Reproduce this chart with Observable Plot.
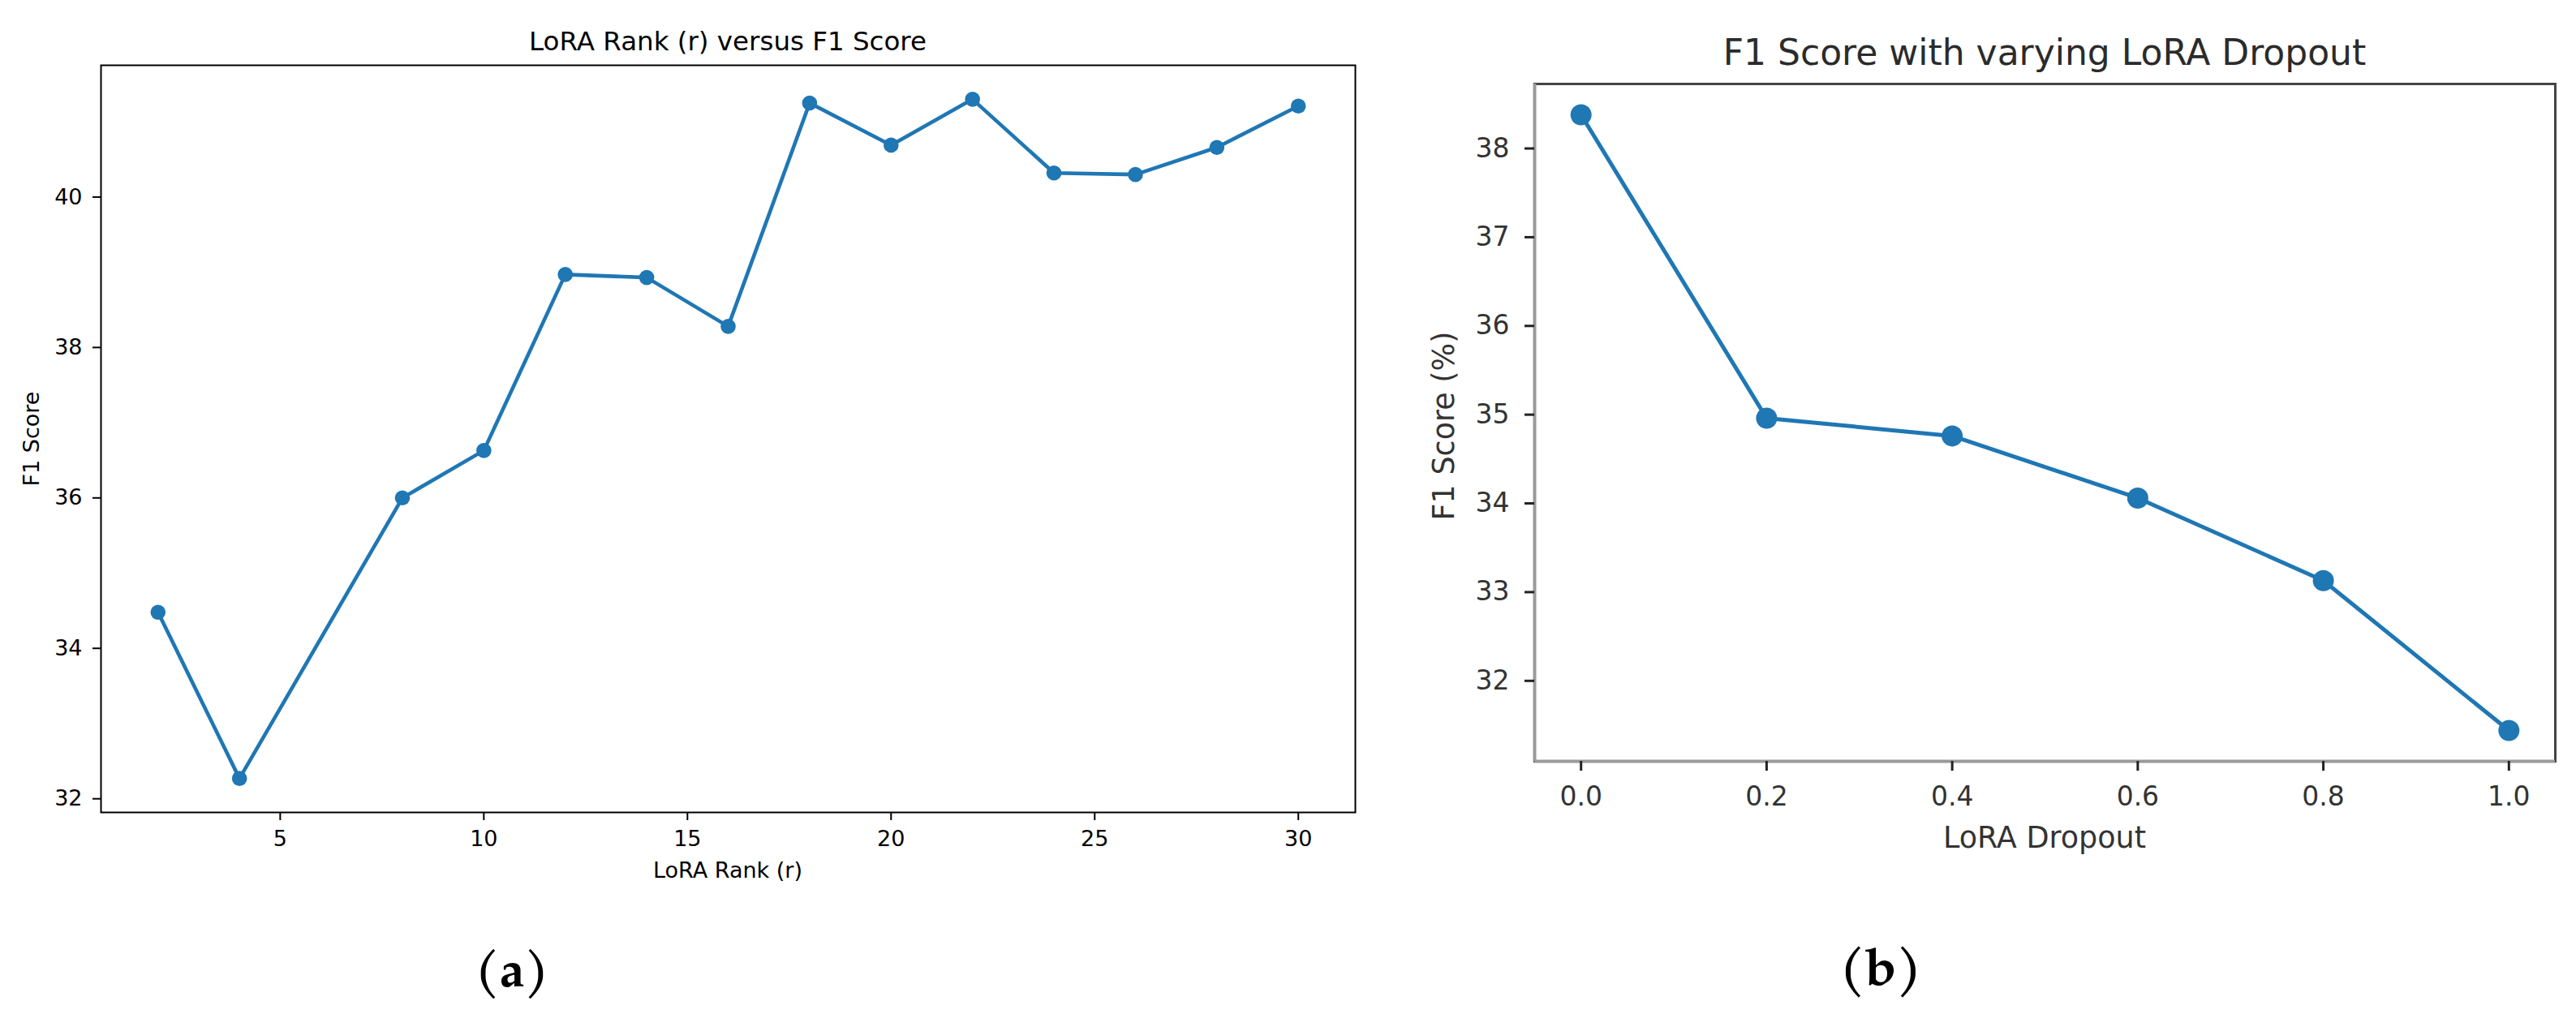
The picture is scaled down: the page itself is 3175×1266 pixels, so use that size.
<!DOCTYPE html>
<html>
<head>
<meta charset="utf-8">
<script src="https://cdn.jsdelivr.net/npm/d3@7"></script>
<script src="https://cdn.jsdelivr.net/npm/@observablehq/plot@0.6"></script>
<style>
  html, body { margin: 0; padding: 0; background: #fff; }
  #page { position: relative; width: 3175px; height: 1266px; overflow: hidden; background: #fff; font-family: "DejaVu Sans", sans-serif; }
  .abs { position: absolute; white-space: nowrap; transform: translate(-50%, -50%); line-height: 1; }
  .rot { transform: translate(-50%, -50%) rotate(-90deg); }
  .sub { font-family: "TeX Gyre Pagella", "Palatino Linotype", "Liberation Serif", serif; font-weight: bold; color: #000; }
</style>
</head>
<body>
<div id="page"></div>
<script>
// ---- Data ----
const rank = [2, 4, 8, 10, 12, 14, 16, 18, 20, 22, 24, 26, 28, 30];
const f1Rank = [34.48, 32.27, 36.00, 36.63, 38.97, 38.93, 38.28, 41.25, 40.69, 41.30, 40.32, 40.30, 40.66, 41.21];
const rankTicks = [5, 10, 15, 20, 25, 30];
const f1RankTicks = [32, 34, 36, 38, 40];

const dropout = [0.0, 0.2, 0.4, 0.6, 0.8, 1.0];
const f1Dropout = [38.38, 34.96, 34.76, 34.06, 33.13, 31.44];
const dropoutTicks = [0.0, 0.2, 0.4, 0.6, 0.8, 1.0];
const f1DropoutTicks = [32, 33, 34, 35, 36, 37, 38];

const titleA = "LoRA Rank (r) versus F1 Score";
const xLabelA = "LoRA Rank (r)";
const yLabelA = "F1 Score";
const titleB = "F1 Score with varying LoRA Dropout";
const xLabelB = "LoRA Dropout";
const yLabelB = "F1 Score (%)";

// ---- helpers ----
const page = document.getElementById("page");
function padded(vals) {
  const lo = d3.min(vals), hi = d3.max(vals), p = (hi - lo) * 0.05;
  return [lo - p, hi + p];
}
function addText(txt, x, y, size, color, cls) {
  const d = document.createElement("div");
  d.className = "abs" + (cls ? " " + cls : "");
  d.textContent = txt;
  d.style.left = x + "px";
  d.style.top = y + "px";
  d.style.fontSize = size + "px";
  d.style.color = color;
  page.appendChild(d);
  return d;
}
const blue = "#1f77b4";

// ---- Chart (a) ----
const dataA = rank.map((r, i) => ({r, f1: f1Rank[i]}));
const plotA = Plot.plot({
  width: 1700, height: 1110,
  marginLeft: 124, marginRight: 30, marginTop: 80, marginBottom: 109,
  style: {fontFamily: "DejaVu Sans", color: "#000", background: "transparent", overflow: "visible"},
  x: {domain: padded(rank)},
  y: {domain: padded(f1Rank)},
  marks: [
    Plot.axisX({ticks: rankTicks, tickSize: 10, tickPadding: 12, strokeWidth: 2, fontSize: 27, label: null}),
    Plot.axisY({ticks: f1RankTicks, tickSize: 10, tickPadding: 13, strokeWidth: 2, fontSize: 27, label: null}),
    Plot.line(dataA, {x: "r", y: "f1", stroke: blue, strokeWidth: 4.6}),
    Plot.dot(dataA, {x: "r", y: "f1", r: 9.3, fill: blue}),
    Plot.frame({stroke: "#000", strokeWidth: 2})
  ]
});
plotA.style.position = "absolute";
plotA.style.left = "0px";
plotA.style.top = "0px";
page.appendChild(plotA);
addText(titleA, 897, 51, 32.5, "#000");
addText(xLabelA, 897, 1072, 27, "#000");
addText(yLabelA, 38, 541, 27, "#000", "rot");
addText("(a)", 631, 1202, 62, "#000", "sub");

// ---- Chart (b) ----
const dataB = dropout.map((d, i) => ({d, f1: f1Dropout[i]}));
const xDomB = padded(dropout), yDomB = padded(f1Dropout);
const plotB = Plot.plot({
  width: 1475, height: 1020,
  marginLeft: 191, marginRight: 26, marginTop: 103, marginBottom: 82,
  style: {fontFamily: "DejaVu Sans", color: "#222", background: "transparent", overflow: "visible"},
  x: {domain: xDomB},
  y: {domain: yDomB},
  marks: [
    Plot.frame({stroke: "#444", strokeWidth: 3}),
    Plot.ruleX([xDomB[0]], {stroke: "#9a9a9a", strokeWidth: 4}),
    Plot.ruleY([yDomB[0]], {stroke: "#9a9a9a", strokeWidth: 4}),
    Plot.axisX({ticks: dropoutTicks, tickFormat: d3.format(".1f"), tickSize: 12, tickPadding: 19, strokeWidth: 3, fontSize: 33, fill: "#333", label: null}),
    Plot.axisY({ticks: f1DropoutTicks, tickSize: 12, tickPadding: 19, strokeWidth: 3, fontSize: 33, fill: "#333", label: null}),
    Plot.line(dataB, {x: "d", y: "f1", stroke: blue, strokeWidth: 5}),
    Plot.dot(dataB, {x: "d", y: "f1", r: 13, fill: blue})
  ]
});
plotB.style.position = "absolute";
plotB.style.left = "1700px";
plotB.style.top = "0px";
page.appendChild(plotB);
addText(titleB, 2520, 65, 44, "#2b2b2b");
addText(xLabelB, 2520, 1033, 36.5, "#333");
addText(yLabelB, 1780, 525, 36.5, "#333", "rot");
addText("(b)", 2318, 1200, 64, "#000", "sub");
</script>
</body>
</html>
